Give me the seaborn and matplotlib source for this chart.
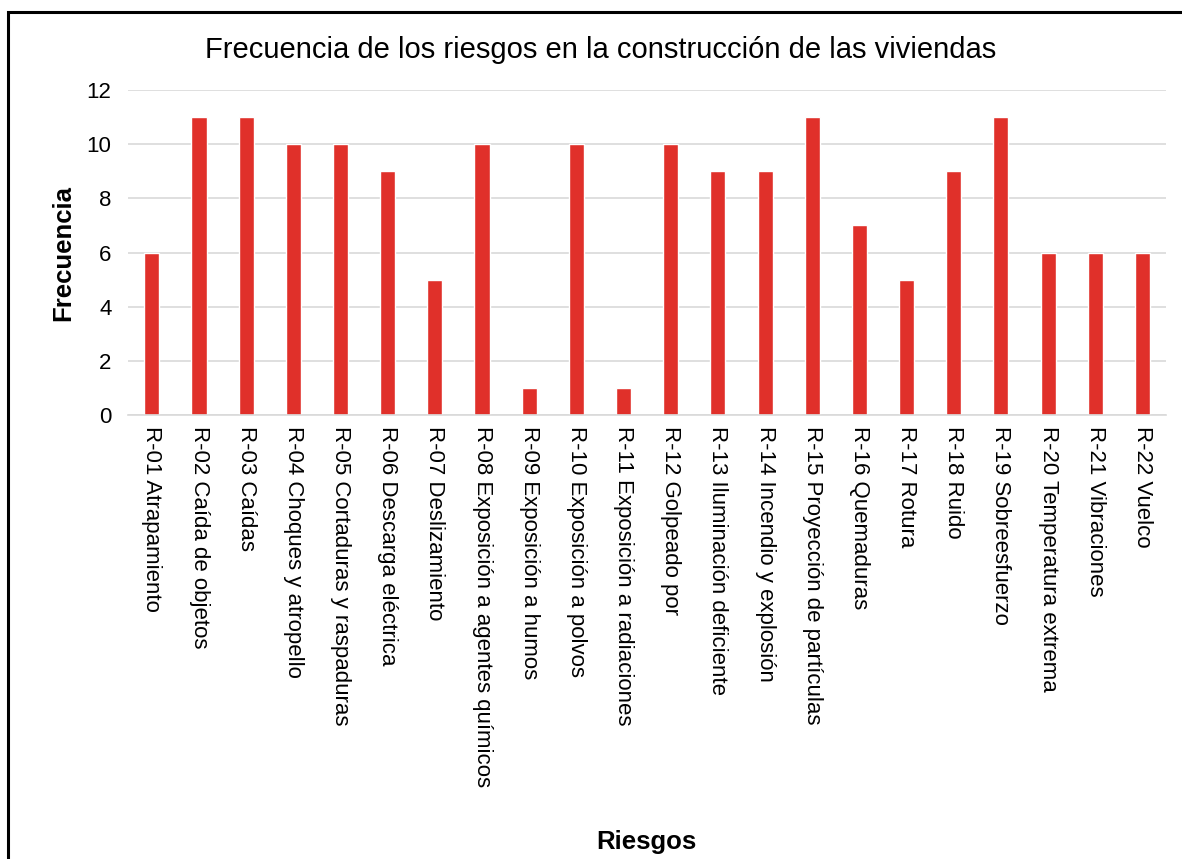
import pandas as pd
import numpy as np
import matplotlib
matplotlib.use("Agg")
import matplotlib.pyplot as plt
import seaborn as sns
from matplotlib.patches import Rectangle

# data
riesgos = ["R-01 Atrapamiento", "R-02 Caída de objetos", "R-03 Caídas",
           "R-04 Choques y atropello", "R-05 Cortaduras y raspaduras",
           "R-06 Descarga eléctrica", "R-07 Deslizamiento",
           "R-08 Exposición a agentes químicos", "R-09 Exposición a humos",
           "R-10 Exposición a polvos", "R-11 Exposición a radiaciones",
           "R-12 Golpeado por", "R-13 Iluminación deficiente",
           "R-14 Incendio y explosión", "R-15 Proyección de partículas",
           "R-16 Quemaduras", "R-17 Rotura", "R-18 Ruido", "R-19 Sobreesfuerzo",
           "R-20 Temperatura extrema", "R-21 Vibraciones", "R-22 Vuelco"]
frecuencia = [6, 11, 11, 10, 10, 9, 5, 10, 1, 10, 1, 10, 9, 9, 11, 7, 5, 9, 11, 6, 6, 6]
y_ticks = [0, 2, 4, 6, 8, 10, 12]

df = pd.DataFrame({"Riesgos": riesgos, "Frecuencia": frecuencia})

sns.set_style("white")
plt.rcParams['font.family'] = ['Liberation Sans', 'DejaVu Sans']
plt.rcParams['text.color'] = 'black'
plt.rcParams['xtick.color'] = 'black'
plt.rcParams['ytick.color'] = 'black'
plt.rcParams['axes.labelcolor'] = 'black'

fig = plt.figure(figsize=(11.82, 8.59), dpi=100)
ax = fig.add_axes([0.1085, 0.517, 0.878, 0.378])

sns.barplot(data=df, x="Riesgos", y="Frecuencia", color="#E0302A",
            saturation=1, width=0.32, ax=ax)

ax.set_ylim(0, 12)
ax.set_yticks(y_ticks)
ax.set_xlim(-0.5, len(riesgos) - 0.5)
ax.yaxis.grid(True, color="#d9d9d9", linewidth=1.2)
ax.set_axisbelow(True)
for s in ["top", "right", "left"]:
    ax.spines[s].set_visible(False)
ax.spines["bottom"].set_color("#d9d9d9")
ax.spines["bottom"].set_linewidth(1.2)

ax.tick_params(axis="y", labelsize=16, length=0, pad=12)
ax.tick_params(axis="x", labelsize=16, length=0, pad=8)
plt.setp(ax.get_xticklabels(), rotation=270, va="top", ha="center")

ax.set_ylabel("Frecuencia", fontsize=18.5, fontweight="bold", labelpad=8)
ax.set_xlabel("")
fig.text(0.547, 1 - 842/859, "Riesgos", fontsize=18.5, fontweight="bold", ha="center", va="center")
fig.text(0.508, 1 - 50/859, "Frecuencia de los riesgos en la construcción de las viviendas",
         fontsize=21, ha="center", va="center")

# outer frame
fig.patches.append(Rectangle((8/1182, -0.01), 1.2, 1 - 12/859 + 0.01,
                             transform=fig.transFigure, fill=False,
                             edgecolor="black", linewidth=2.2))

fig.savefig("out.png", dpi=100)
